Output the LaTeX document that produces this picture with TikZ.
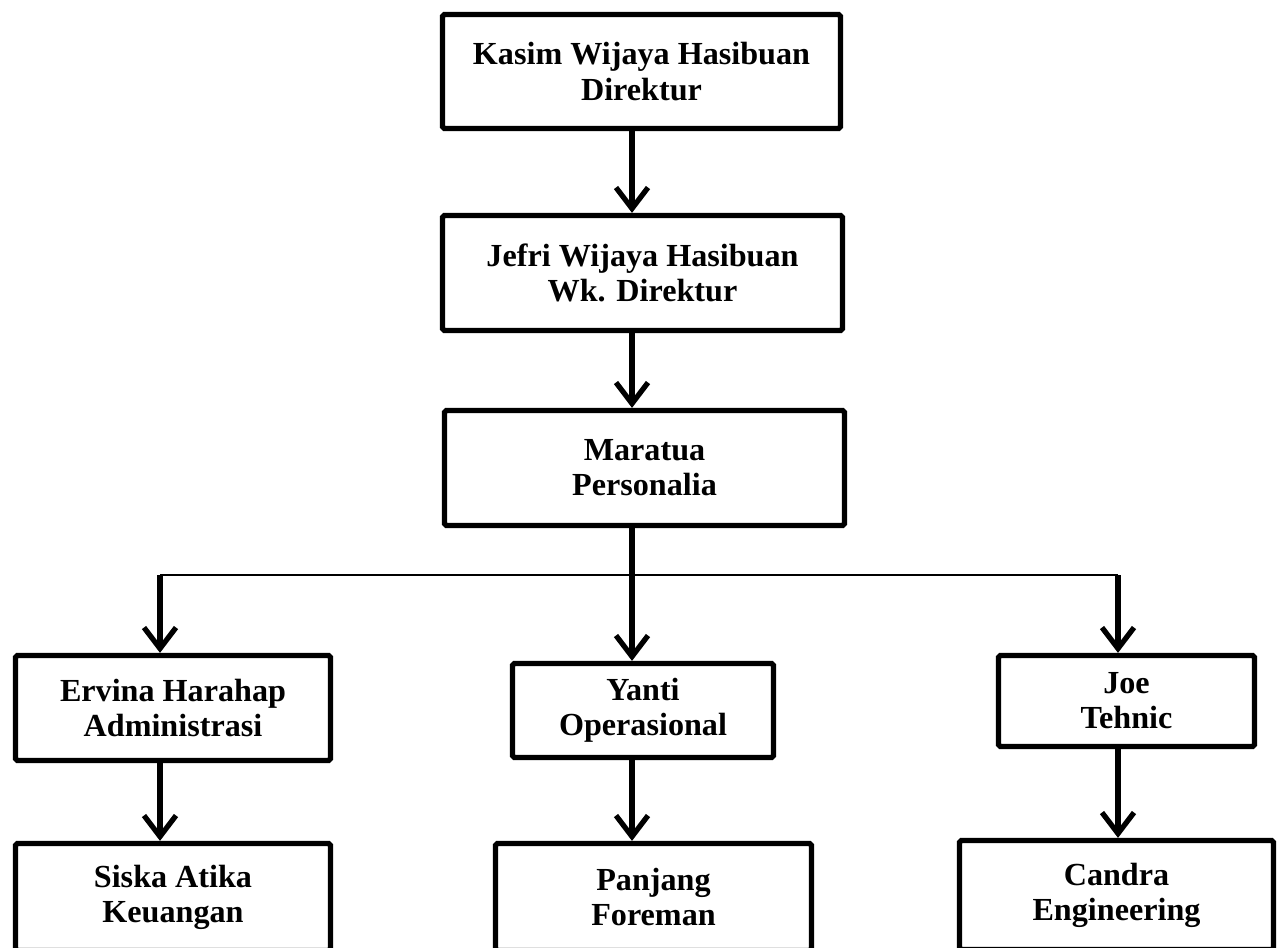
\documentclass[tikz,border=0pt]{standalone}
\usepackage{fontspec}
\setmainfont{Liberation Serif}
\usetikzlibrary{arrows.meta}

\begin{document}
\begin{tikzpicture}[x=0.02cm,y=-0.02cm,
        box/.style={draw, line width=3pt, rounded corners=1pt, align=center,
            inner sep=0pt, font=\fontsize{18.3}{20}\selectfont\bfseries},
        arr/.style={line width=3pt, -{Straight Barb[length=0.42cm,width=0.64cm]}},
        bus/.style={line width=1.4pt}]
            \useasboundingbox (0,0) rectangle (1285,947);
            \clip (0,0) rectangle (1285,947);
            \node[box, minimum width=7.96cm, minimum height=2.28cm] (dir) at (641.5,71.5) {Kasim Wijaya Hasibuan\\Direktur};
            \node[box, minimum width=8cm, minimum height=2.3cm] (wkdir) at (642.5,273) {Jefri Wijaya Hasibuan\\Wk. Direktur};
            \node[box, minimum width=8cm, minimum height=2.3cm] (pers) at (644.5,468) {Maratua\\Personalia};
            \node[box, minimum width=6.3cm, minimum height=2.1cm] (adm) at (173,708) {Ervina Harahap\\Administrasi};
            \node[box, minimum width=5.22cm, minimum height=1.88cm] (ops) at (643,710.5) {Yanti\\Operasional};
            \node[box, minimum width=5.12cm, minimum height=1.82cm] (tek) at (1126.5,701) {Joe\\Tehnic};
            \node[box, minimum width=6.3cm, minimum height=2.14cm] (keu) at (173,897) {Siska Atika\\Keuangan};
            \node[box, minimum width=6.32cm, minimum height=2.14cm] (frm) at (653.5,897) {Panjang\\Foreman};
            \node[box, minimum width=6.28cm, minimum height=2.18cm] (eng) at (1116.5,895) {Candra\\Engineering};
            % bus line
            \coordinate (jl) at (160,575);
            \coordinate (jm) at (632,575);
            \coordinate (jr) at (1118,575);
            \draw[bus] (jl) -- (jr);
            % top column
            \draw[arr] (dir.south -| jm) -- (wkdir.north -| jm);
            \draw[arr] (wkdir.south -| jm) -- (pers.north -| jm);
            \draw[arr] (pers.south -| jm) -- (ops.north -| jm);
            \draw[arr] (jl) -- (adm.north -| jl);
            \draw[arr] (jr) -- (tek.north -| jr);
            % bottom row
            \draw[arr] (adm.south -| jl) -- (keu.north -| jl);
            \draw[arr] (ops.south -| jm) -- (frm.north -| jm);
            \draw[arr] (tek.south -| jr) -- (eng.north -| jr);
        \end{tikzpicture}
\end{document}
